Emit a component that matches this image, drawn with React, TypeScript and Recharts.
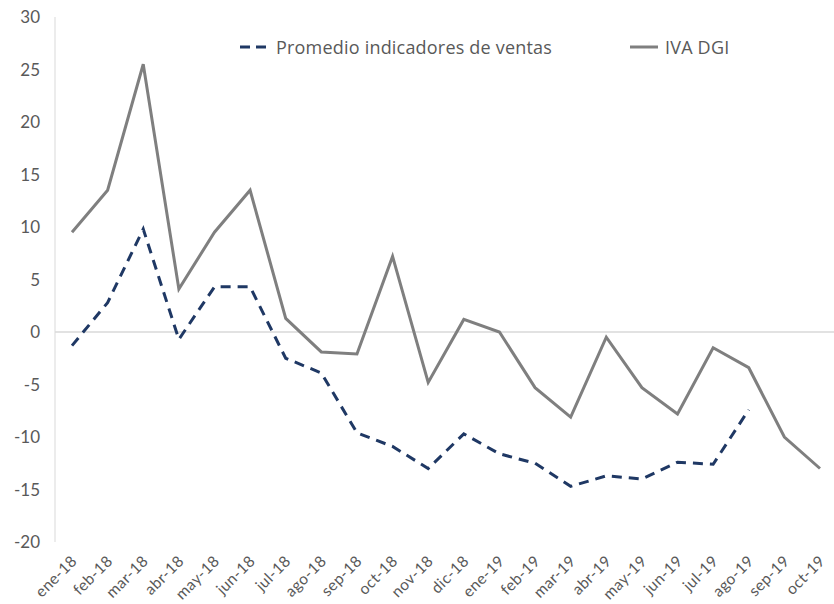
import {
  LineChart,
  Line,
  XAxis,
  YAxis,
  ReferenceLine,
  Legend,
} from "recharts";

const MONTHS = [
  "ene-18", "feb-18", "mar-18", "abr-18", "may-18", "jun-18", "jul-18",
  "ago-18", "sep-18", "oct-18", "nov-18", "dic-18", "ene-19", "feb-19",
  "mar-19", "abr-19", "may-19", "jun-19", "jul-19", "ago-19", "sep-19",
  "oct-19",
];

// promedio de indicadores de ventas (sin dato sep-19 y oct-19)
const PROMEDIO = [
  -1.3, 2.8, 9.8, -0.7, 4.3, 4.3, -2.5, -3.9, -9.6, -10.9, -13.0, -9.7,
  -11.6, -12.5, -14.7, -13.7, -14.0, -12.4, -12.6, -7.4, null, null,
];

const IVA_DGI = [
  9.5, 13.5, 25.5, 4.1, 9.5, 13.5, 1.3, -1.9, -2.1, 7.2, -4.8, 1.2, 0.0,
  -5.3, -8.1, -0.5, -5.3, -7.8, -1.5, -3.4, -10.0, -13.0,
];

const Y_TICKS = [-20, -15, -10, -5, 0, 5, 10, 15, 20, 25, 30];

const NAVY = "#1f3864";
const GRAY = "#7f7f7f";
const TEXT = "#595959";
const AXIS = "#d9d9d9";
const FONT = "Lato, 'Open Sans', sans-serif";
const LEGEND_FONT = "'Open Sans', Lato, sans-serif";

const data = MONTHS.map((month, i) => ({
  month,
  promedio: PROMEDIO[i],
  iva: IVA_DGI[i],
}));

function MonthTick({ x, y, payload }: any) {
  return (
    <g transform={`translate(${x + 6},${y + 18})`}>
      <text
        x={0}
        y={0}
        textAnchor="end"
        transform="rotate(-45)"
        fill={TEXT}
        fontSize={15.5}
        fontFamily={FONT}
        letterSpacing={0.4}
      >
        {payload.value}
      </text>
    </g>
  );
}

function ChartLegend() {
  return (
    <div
      style={{
        position: "relative",
        height: 26,
        fontFamily: LEGEND_FONT,
        fontSize: 18,
        letterSpacing: 0.2,
        color: TEXT,
        whiteSpace: "nowrap",
      }}
    >
      <div style={{ position: "absolute", left: 0, top: 0, display: "flex", alignItems: "center" }}>
        <svg width={32} height={26}>
          <line x1={2} y1={13} x2={32} y2={13} stroke={NAVY} strokeWidth={3} strokeDasharray="10 6" />
        </svg>
        <span style={{ marginLeft: 6 }}>Promedio indicadores de ventas</span>
      </div>
      <div style={{ position: "absolute", left: 392, top: 0, display: "flex", alignItems: "center" }}>
        <svg width={28} height={26}>
          <line x1={0} y1={13} x2={28} y2={13} stroke={GRAY} strokeWidth={3} />
        </svg>
        <span style={{ marginLeft: 7 }}>IVA DGI</span>
      </div>
    </div>
  );
}

export default function App() {
  return (
    <div style={{ position: "absolute", left: 0, top: 0, width: 834, height: 604, background: "#fff" }}>
      <LineChart
        width={834}
        height={604}
        data={data}
        margin={{ top: 17, right: 0, left: 0, bottom: 0 }}
      >
        <XAxis
          dataKey="month"
          height={62}
          interval={0}
          padding={{ left: 17, right: 14 }}
          axisLine={false}
          tickLine={false}
          tickSize={0}
          tick={<MonthTick />}
        />
        <YAxis
          width={55}
          domain={[-20, 30]}
          ticks={Y_TICKS}
          interval={0}
          axisLine={{ stroke: AXIS, strokeWidth: 1 }}
          tickLine={false}
          tickSize={0}
          tickMargin={15}
          tick={{ fill: TEXT, fontSize: 17, fontFamily: FONT }}
        />
        <ReferenceLine y={0} stroke={AXIS} strokeWidth={1.5} />
        <Legend
          layout="vertical"
          align="center"
          verticalAlign="middle"
          wrapperStyle={{ top: 34, left: 238, width: 520 }}
          content={() => <ChartLegend />}
        />
        <Line
          type="linear"
          dataKey="iva"
          name="IVA DGI"
          stroke={GRAY}
          strokeWidth={3}
          dot={false}
          isAnimationActive={false}
        />
        <Line
          type="linear"
          dataKey="promedio"
          name="Promedio indicadores de ventas"
          stroke={NAVY}
          strokeWidth={3}
          strokeDasharray="10 7"
          dot={false}
          connectNulls={false}
          isAnimationActive={false}
        />
      </LineChart>
    </div>
  );
}
